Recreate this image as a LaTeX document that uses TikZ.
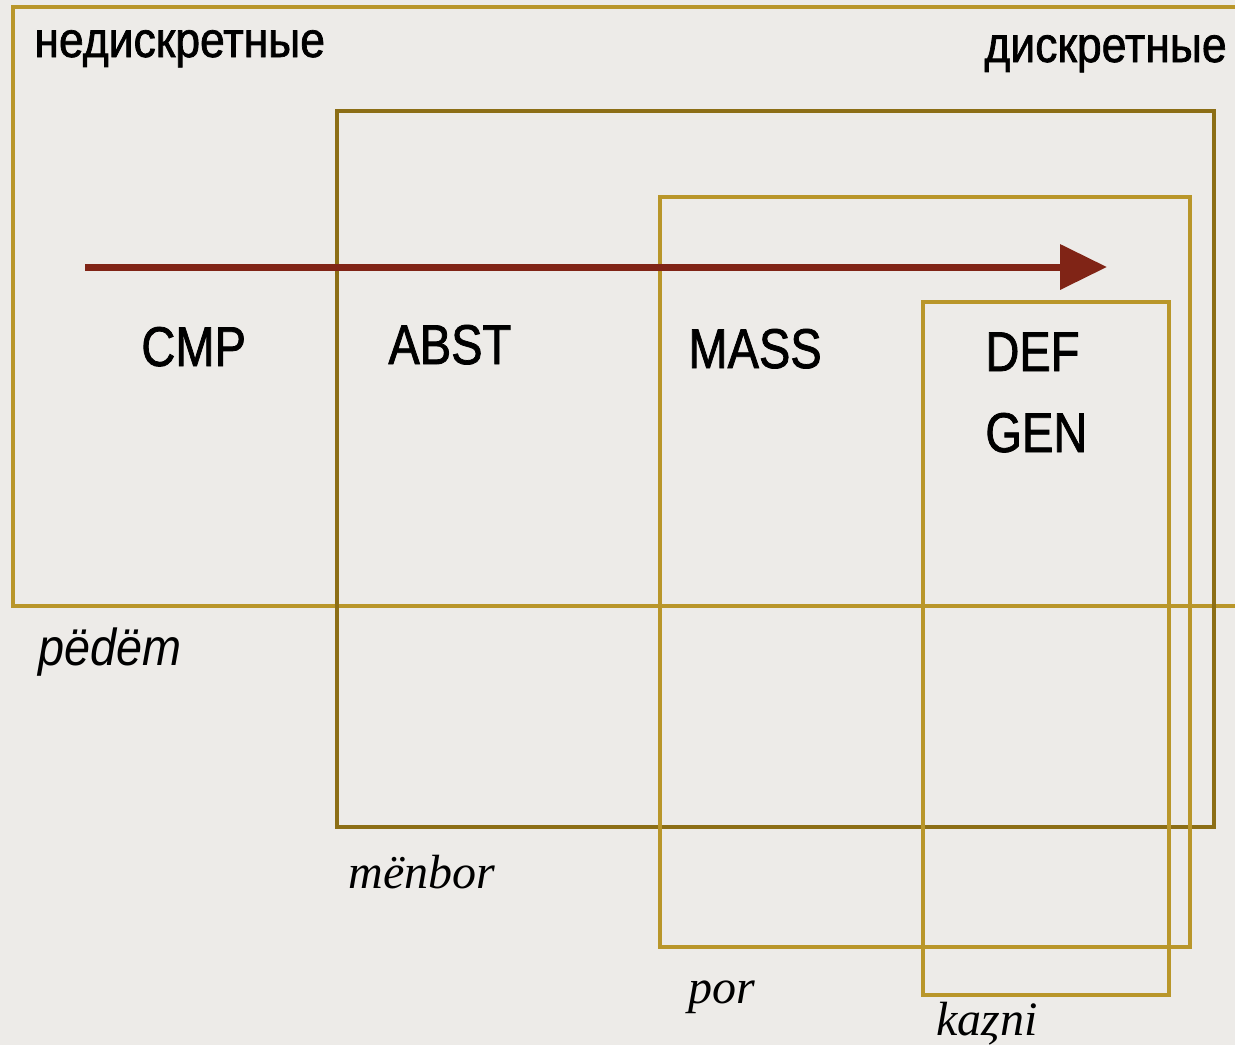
\documentclass[tikz,border=0pt]{standalone}
\usepackage{fontspec}
\setmainfont{Liberation Serif}
\newfontfamily\labfont[FakeStretch=0.84,FakeBold=1.4]{Liberation Sans}
\newfontfamily\scalefont[FakeStretch=0.89,FakeBold=1.4]{Liberation Sans}
\newfontfamily\glossfont[FakeStretch=0.9]{Liberation Sans}
\usetikzlibrary{arrows.meta}

\definecolor{paper}{RGB}{237,235,232}
\definecolor{gold}{RGB}{185,150,42}
\definecolor{darkgold}{RGB}{140,110,22}
\definecolor{rust}{RGB}{128,36,22}

\tikzset{
  frame/.style={draw=gold, line width=2pt},
  darkframe/.style={draw=darkgold, line width=2pt},
  tag/.style={inner sep=0pt, anchor=base west, font=\labfont\fontsize{28pt}{30pt}\selectfont},
  scale tag/.style={inner sep=0pt, anchor=base west, font=\scalefont\fontsize{25pt}{27pt}\selectfont},
  sanslabel/.style={inner sep=0pt, anchor=base west, font=\glossfont\itshape\fontsize{26pt}{28pt}\selectfont},
  seriflabel/.style={inner sep=0pt, anchor=base west, font=\itshape\fontsize{24pt}{26pt}\selectfont},
  scalearrow/.style={draw=rust, line width=3.5pt, -{Triangle[length=23.5pt,width=22pt]}}
}

\begin{document}
\begin{tikzpicture}[x=0.5pt,y=-0.5pt]
  \useasboundingbox[fill=paper] (0,0) rectangle (1235,1045);

  % nested ranges, widest first
  \draw[frame] (1235,7) -- (13,7) -- (13,606) -- (1235,606);
  \draw[darkframe] (337,111) rectangle (1214,827);
  \draw[frame] (660,197) rectangle (1190,947);
  \draw[frame] (923,302) rectangle (1169,995);

  % scale from non-discrete to discrete
  \coordinate (scalestart) at (85,267);
  \coordinate (scaleend) at (1107,267);
  \draw[scalearrow] (scalestart) -- (scaleend);

  \node[scale tag] (nondiscrete) at (34,57) {недискретные};
  \node[scale tag] (discrete) at (984,62) {дискретные};

  \node[tag] (cmp) at (141,366) {CMP};
  \node[tag] (abst) at (388,364) {ABST};
  \node[tag] (mass) at (688,368) {MASS};
  \node[tag] (def) at (985,371) {DEF};
  \node[tag] (gen) at (985,452) {GEN};

  \node[sanslabel] (pedem) at (38,665) {pëdëm};
  \node[seriflabel] (menbor) at (348,888) {mënbor};
  \node[seriflabel] (por) at (688,1003) {por};
  \node[seriflabel] (kazni) at (936,1035) {kaȥni};
\end{tikzpicture}
\end{document}
